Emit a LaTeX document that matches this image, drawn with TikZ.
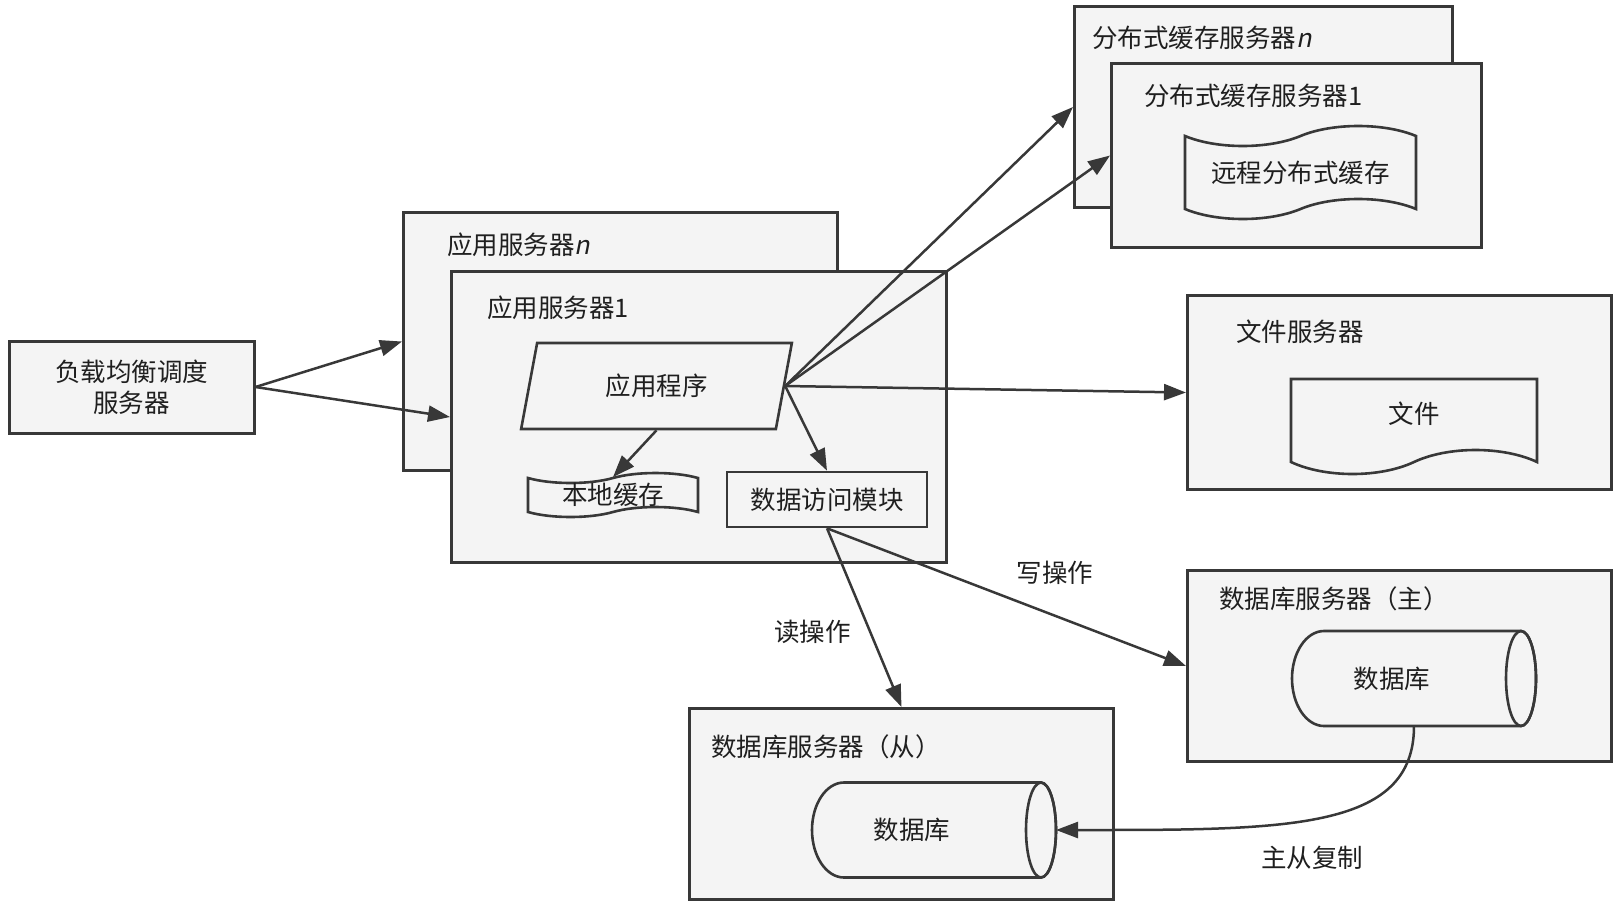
\documentclass[tikz,border=0pt]{standalone}
\usepackage{fontspec}
\setmainfont{Noto Sans CJK SC}
\newfontfamily\slantfont[FakeSlant=0.2]{Noto Sans CJK SC}
\usepackage{tikz}
\usetikzlibrary{
  arrows.meta,
  shapes.geometric,
  shapes.symbols
}
\definecolor{boxfill}{HTML}{F4F4F4}
\definecolor{boxline}{HTML}{383838}
\colorlet{textcol}{black!88}

\tikzset{
  dbcyl/.pic={
    \path[draw=boxline, line width=2.6pt, fill=boxfill]
      (-90,-47.5) -- (107,-47.5)
      arc[start angle=90, end angle=-90, x radius=15pt, y radius=47.5pt]
      -- (-90,47.5)
      arc[start angle=270, end angle=90, x radius=32pt, y radius=47.5pt]
      -- cycle;
    \draw[boxline, line width=2.6pt] (107,0) ellipse [x radius=15pt, y radius=47.5pt];
    \node (-txt) at (-22,0) {#1};
    \coordinate (-bottom) at (0,47.5);
    \coordinate (-east) at (122,0);
  }
}

\begin{document}
\begin{tikzpicture}[
  x=1pt, y=-1pt,
  font=\fontsize{25.5pt}{31pt}\selectfont, text=textcol,
  server/.style={draw=boxline, fill=boxfill, line width=3pt, anchor=north west, inner sep=0pt},
  servertitle/.style={anchor=west, inner sep=0pt},
  part/.style={draw=boxline, fill=boxfill, line width=2.6pt, inner sep=0pt},
  link/.style={draw=boxline, line width=2.5pt, -{Triangle[length=22pt,width=16pt]}},
  note/.style={inner sep=0pt}
]
\useasboundingbox (0,0) rectangle (1620,911);
\node[server, anchor=center, minimum width=245pt, minimum height=92pt, align=center] (lb) at (131.5,387) {负载均衡调度\\服务器};
\node[server, minimum width=434pt, minimum height=258pt] (appn) at (402,211) {};
\node[servertitle] at ([shift={(45,34)}]appn.north west) {应用服务器{\slantfont n}};
\node[server, minimum width=495pt, minimum height=291pt] (app1) at (450,270) {};
\node[servertitle] at ([shift={(37,38)}]app1.north west) {应用服务器1};
\node[part, trapezium, trapezium left angle=74, trapezium right angle=106, trapezium stretches=true, minimum width=271pt, minimum height=86pt] (prog) at (656.5,386) {应用程序};
\node[part, tape, tape bend height=10pt, minimum width=170pt, minimum height=44pt] (cache) at (613,495) {本地缓存};
\node[part, minimum width=200pt, minimum height=55pt] (dam) at (827,499.5) {数据访问模块};
\node[server, minimum width=378pt, minimum height=201pt] (cachen) at (1073,5) {};
\node[servertitle] at ([shift={(19,33)}]cachen.north west) {分布式缓存服务器{\slantfont n}};
\node[server, minimum width=370pt, minimum height=184pt] (cache1) at (1110,62) {};
\node[servertitle] at ([shift={(34,34)}]cache1.north west) {分布式缓存服务器1};
\node[part, tape, tape bend height=20pt, minimum width=231pt, minimum height=93pt] (remote) at (1300.5,172.5) {远程分布式缓存};
\node[server, minimum width=424pt, minimum height=194pt] (filesrv) at (1186,294) {};
\node[servertitle] at ([shift={(50,38)}]filesrv.north west) {文件服务器};
\node[part, tape, tape bend top=none, tape bend height=24pt, minimum width=246pt, minimum height=95pt] (file) at (1414,414.5) {\raisebox{3pt}{文件}};
\node[server, minimum width=424pt, minimum height=191pt] (dbmsrv) at (1186,569) {};
\node[servertitle] at ([shift={(33,30)}]dbmsrv.north west) {数据库服务器（主）};
\pic (dbm) at (1414,678.5) {dbcyl=数据库};
\node[server, minimum width=424pt, minimum height=191pt] (dbssrv) at (688,707) {};
\node[servertitle] at ([shift={(23,40)}]dbssrv.north west) {数据库服务器（从）};
\pic (dbs) at (934,830) {dbcyl=数据库};
\draw[link] (lb.east) -- (appn.west);
\draw[link] (lb.east) -- (app1.west);
\draw[link] (prog.east) -- (cachen.west);
\draw[link] (prog.east) -- (cache1.west);
\draw[link] (prog.east) -- (filesrv.west);
\draw[link] (prog.south) -- (cache.north);
\draw[link] (prog.east) -- (dam.north);
\draw[link] (dam.south) -- node[note, pos=0.58, left=18pt] {读操作} (dbssrv.north);
\draw[link] (dam.south) -- node[note, pos=0.635, above=30pt] {写操作} (dbmsrv.west);
\draw[link] (dbm-bottom) .. controls +(0,105) and +(230,0) .. (dbs-east);
\node[note] at (1312,858) {主从复制};
\end{tikzpicture}
\end{document}
